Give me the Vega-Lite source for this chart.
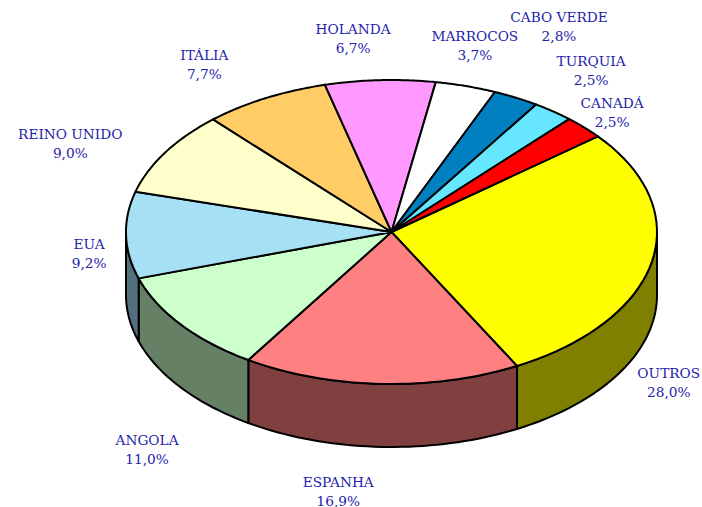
{
"$schema":"https://vega.github.io/schema/vega-lite/v6.json",
"width":702,"height":507,
"autosize":{"type":"none"},
"padding":0,
"background":"white",
"view":{"stroke":null},
"data":{"values":[
{"nome":"OUTROS","share":28.0},
{"nome":"ESPANHA","share":16.9},
{"nome":"ANGOLA","share":11.0},
{"nome":"EUA","share":9.2},
{"nome":"REINO UNIDO","share":9.0},
{"nome":"ITÁLIA","share":7.7},
{"nome":"HOLANDA","share":6.7},
{"nome":"MARROCOS","share":3.7},
{"nome":"CABO VERDE","share":2.8},
{"nome":"TURQUIA","share":2.5},
{"nome":"CANADÁ","share":2.5}
]},
"transform":[
{"window":[{"op":"sum","field":"share","as":"cum"}]},
{"calculate":"51+3.6*(datum.cum-datum.share)","as":"a0"},
{"calculate":"51+3.6*datum.cum","as":"a1"},
{"calculate":"(datum.a0+datum.a1)/2*PI/180","as":"m"},
{"calculate":"391.5+265.5*sin(datum.m)","as":"rimx"},
{"calculate":"232-152*cos(datum.m)","as":"rimy"},
{"calculate":"[datum.nome,replace(format(datum.share,'.1f'),'.',',')+'%']","as":"rot"}
],
"encoding":{
"x":{"field":"px","type":"quantitative","scale":{"domain":[0,702]},"axis":null},
"y":{"field":"py","type":"quantitative","scale":{"domain":[507,0]},"axis":null}
},
"resolve":{"scale":{"fill":"independent"}},
"layer":[
{
"transform":[
{"calculate":"max(datum.a0,90)","as":"s0"},
{"calculate":"min(datum.a1,270)","as":"s1"},
{"filter":"datum.s0<datum.s1"},
{"calculate":"sequence(0,83)","as":"step"},
{"flatten":["step"]},
{"calculate":"datum.step<=40?datum.step/40:(datum.step<=81?(81-datum.step)/40:0)","as":"t"},
{"calculate":"(datum.s0+(datum.s1-datum.s0)*datum.t)*PI/180","as":"ang"},
{"calculate":"391.5+265.5*sin(datum.ang)","as":"px"},
{"calculate":"232-152*cos(datum.ang)+((datum.step>40&&datum.step<=81)?63:0)","as":"py"}
],
"mark":{"type":"line","stroke":"black","strokeWidth":2,"strokeJoin":"round","clip":false},
"encoding":{
"order":{"field":"step","type":"quantitative"},
"detail":{"field":"nome"},
"fill":{"field":"nome","type":"nominal","legend":null,"scale":{"domain":["OUTROS","ESPANHA","ANGOLA","EUA"],"range":["#808000","#804040","#668066","#537080"]}}
}
},
{
"transform":[
{"calculate":"sequence(0,43)","as":"step"},
{"flatten":["step"]},
{"calculate":"(datum.a0+(datum.a1-datum.a0)*(datum.step-1)/40)*PI/180","as":"ang"},
{"calculate":"(datum.step==0||datum.step==42)?391.5:391.5+265.5*sin(datum.ang)","as":"px"},
{"calculate":"(datum.step==0||datum.step==42)?232:232-152*cos(datum.ang)","as":"py"}
],
"mark":{"type":"line","stroke":"black","strokeWidth":2,"strokeJoin":"round","clip":false},
"encoding":{
"order":{"field":"step","type":"quantitative"},
"detail":{"field":"nome"},
"fill":{"field":"nome","type":"nominal","legend":null,"scale":{"domain":["OUTROS","ESPANHA","ANGOLA","EUA","REINO UNIDO","ITÁLIA","HOLANDA","MARROCOS","CABO VERDE","TURQUIA","CANADÁ"],"range":["#ffff00","#ff8080","#ccffcc","#a6e0f5","#ffffcc","#ffcc66","#ff99ff","#ffffff","#0080c0","#66e6ff","#ff0000"]}}
}
},
{"transform":[{"filter":"datum.nome=='CANADÁ'"}],"mark":{"type":"text","font":"DejaVu Serif","fontSize":13.7,"color":"#2222aa","lineHeight":19,"baseline":"middle","align":"center","dx":28,"dy":-23},"encoding":{"x":{"field":"rimx","type":"quantitative"},"y":{"field":"rimy","type":"quantitative"},"text":{"field":"rot"}}},
{"transform":[{"filter":"datum.nome=='TURQUIA'"}],"mark":{"type":"text","font":"DejaVu Serif","fontSize":13.7,"color":"#2222aa","lineHeight":19,"baseline":"middle","align":"center","dx":38,"dy":-49},"encoding":{"x":{"field":"rimx","type":"quantitative"},"y":{"field":"rimy","type":"quantitative"},"text":{"field":"rot"}}},
{"transform":[{"filter":"datum.nome=='CABO VERDE'"}],"mark":{"type":"text","font":"DejaVu Serif","fontSize":13.7,"color":"#2222aa","lineHeight":19,"baseline":"middle","align":"center","dx":43,"dy":-80},"encoding":{"x":{"field":"rimx","type":"quantitative"},"y":{"field":"rimy","type":"quantitative"},"text":{"field":"rot"}}},
{"transform":[{"filter":"datum.nome=='MARROCOS'"}],"mark":{"type":"text","font":"DejaVu Serif","fontSize":13.7,"color":"#2222aa","lineHeight":19,"baseline":"middle","align":"center","dx":9,"dy":-49},"encoding":{"x":{"field":"rimx","type":"quantitative"},"y":{"field":"rimy","type":"quantitative"},"text":{"field":"rot"}}},
{"transform":[{"filter":"datum.nome=='HOLANDA'"}],"mark":{"type":"text","font":"DejaVu Serif","fontSize":13.7,"color":"#2222aa","lineHeight":19,"baseline":"middle","align":"center","dx":-27,"dy":-50},"encoding":{"x":{"field":"rimx","type":"quantitative"},"y":{"field":"rimy","type":"quantitative"},"text":{"field":"rot"}}},
{"transform":[{"filter":"datum.nome=='ITÁLIA'"}],"mark":{"type":"text","font":"DejaVu Serif","fontSize":13.7,"color":"#2222aa","lineHeight":19,"baseline":"middle","align":"center","dx":-61,"dy":-42},"encoding":{"x":{"field":"rimx","type":"quantitative"},"y":{"field":"rimy","type":"quantitative"},"text":{"field":"rot"}}},
{"transform":[{"filter":"datum.nome=='REINO UNIDO'"}],"mark":{"type":"text","font":"DejaVu Serif","fontSize":13.7,"color":"#2222aa","lineHeight":19,"baseline":"middle","align":"center","dx":-95,"dy":-17},"encoding":{"x":{"field":"rimx","type":"quantitative"},"y":{"field":"rimy","type":"quantitative"},"text":{"field":"rot"}}},
{"transform":[{"filter":"datum.nome=='EUA'"}],"mark":{"type":"text","font":"DejaVu Serif","fontSize":13.7,"color":"#2222aa","lineHeight":19,"baseline":"middle","align":"center","dx":-37,"dy":10},"encoding":{"x":{"field":"rimx","type":"quantitative"},"y":{"field":"rimy","type":"quantitative"},"text":{"field":"rot"}}},
{"transform":[{"filter":"datum.nome=='ANGOLA'"}],"mark":{"type":"text","font":"DejaVu Serif","fontSize":13.7,"color":"#2222aa","lineHeight":19,"baseline":"middle","align":"center","dx":-34,"dy":116},"encoding":{"x":{"field":"rimx","type":"quantitative"},"y":{"field":"rimy","type":"quantitative"},"text":{"field":"rot"}}},
{"transform":[{"filter":"datum.nome=='ESPANHA'"}],"mark":{"type":"text","font":"DejaVu Serif","fontSize":13.7,"color":"#2222aa","lineHeight":19,"baseline":"middle","align":"center","dx":-43,"dy":99},"encoding":{"x":{"field":"rimx","type":"quantitative"},"y":{"field":"rimy","type":"quantitative"},"text":{"field":"rot"}}},
{"transform":[{"filter":"datum.nome=='OUTROS'"}],"mark":{"type":"text","font":"DejaVu Serif","fontSize":13.7,"color":"#2222aa","lineHeight":19,"baseline":"middle","align":"center","dx":17,"dy":112},"encoding":{"x":{"field":"rimx","type":"quantitative"},"y":{"field":"rimy","type":"quantitative"},"text":{"field":"rot"}}}
]
}
